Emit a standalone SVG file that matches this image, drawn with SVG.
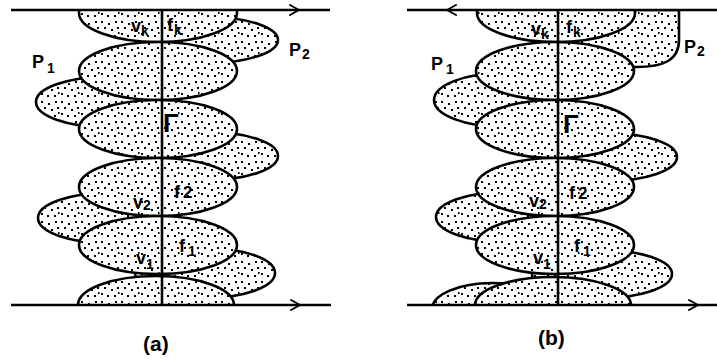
<svg xmlns="http://www.w3.org/2000/svg" width="717" height="360" viewBox="0 0 717 360">
<style>
.e{fill:url(#dots);stroke:#000;stroke-width:2.6}
.ln{fill:none;stroke:#000;stroke-width:2.6}
.ah{fill:none;stroke:#000;stroke-width:2;stroke-linecap:round;stroke-linejoin:round}
.d{fill:#000}
text{font-family:"Liberation Sans",Arial,sans-serif;fill:#000;font-weight:bold}
.t{font-size:18px}
.s{font-size:14px}
.g{font-size:26px}
.cap{font-size:21px}
</style>
<defs>
<pattern id="dots" x="0" y="0" width="20" height="20" patternUnits="userSpaceOnUse">
<rect width="20" height="20" fill="#fff"/>
<rect class="d" x="1" y="1" width="2" height="2"/>
<rect class="d" x="8" y="3" width="2" height="2"/>
<rect class="d" x="15" y="1" width="2" height="2"/>
<rect class="d" x="4" y="7" width="2" height="2"/>
<rect class="d" x="11" y="9" width="2" height="2"/>
<rect class="d" x="17" y="7" width="2" height="2"/>
<rect class="d" x="1" y="13" width="2" height="2"/>
<rect class="d" x="7" y="15" width="2" height="2"/>
<rect class="d" x="14" y="15" width="2" height="2"/>
<rect class="d" x="18" y="12" width="1.5" height="2"/>
</pattern>
<clipPath id="band"><rect x="0" y="10" width="717" height="295"/></clipPath>
</defs>

<g id="panel-a" clip-path="url(#band)">
<g id="a-side">
<ellipse id="a-R1" class="e" cx="208" cy="40" rx="70" ry="23"/>
<ellipse id="a-L1" class="e" cx="106" cy="102" rx="70" ry="25"/>
<ellipse id="a-R2" class="e" cx="208" cy="156" rx="70" ry="24"/>
<ellipse id="a-L2" class="e" cx="108" cy="218" rx="70" ry="25"/>
<ellipse id="a-R3" class="e" cx="205" cy="273" rx="70" ry="25"/>
</g>
<g id="a-center">
<ellipse id="a-Ek" class="e" cx="158" cy="13" rx="79" ry="29"/>
<ellipse id="a-E3" class="e" cx="158" cy="71" rx="79" ry="29"/>
<ellipse id="a-Gamma" class="e" cx="158" cy="129" rx="79" ry="29"/>
<ellipse id="a-E2" class="e" cx="158" cy="187" rx="79" ry="29"/>
<ellipse id="a-E1" class="e" cx="158" cy="245" rx="79" ry="29"/>
<ellipse id="a-E0" class="e" cx="156" cy="305" rx="78" ry="29"/>
</g>
</g>

<g id="panel-b" clip-path="url(#band)">
<g id="b-side">
<path id="b-P2" class="e" d="M585,10 H679 V40 C679,60 664,67 636,67 C606,67 585,55 575,40 Z"/>
<ellipse id="b-L1" class="e" cx="504" cy="100" rx="70" ry="27"/>
<ellipse id="b-R2" class="e" cx="607" cy="157" rx="70" ry="24"/>
<ellipse id="b-L2" class="e" cx="506" cy="217" rx="70" ry="25"/>
<ellipse id="b-R3" class="e" cx="602" cy="274" rx="70" ry="24"/>
<ellipse id="b-L0" class="e" cx="492" cy="309" rx="60" ry="26"/>
</g>
<g id="b-center">
<ellipse id="b-Ek" class="e" cx="556" cy="13" rx="79" ry="29"/>
<ellipse id="b-E3" class="e" cx="555" cy="71" rx="79" ry="29"/>
<ellipse id="b-Gamma" class="e" cx="555" cy="129" rx="79" ry="29"/>
<ellipse id="b-E2" class="e" cx="555" cy="187" rx="79" ry="29"/>
<ellipse id="b-E1" class="e" cx="555" cy="245" rx="79" ry="29"/>
<ellipse id="b-E0" class="e" cx="553" cy="305" rx="78" ry="28"/>
</g>
</g>

<g id="connectors">
<line class="ln" x1="11" y1="10" x2="330" y2="10"/>
<line class="ln" x1="162" y1="10" x2="162" y2="305"/>
<line class="ln" x1="11" y1="305" x2="331" y2="305"/>
<path class="ah" d="M290,5 L299,10 L290,15"/>
<path class="ah" d="M291,300 L300,305 L291,310"/>
<line class="ln" x1="407" y1="10" x2="717" y2="10"/>
<line class="ln" x1="558" y1="10" x2="558" y2="305"/>
<line class="ln" x1="407" y1="305" x2="717" y2="305"/>
<path class="ah" d="M456,5 L447,10 L456,15"/>
<path class="ah" d="M689,300 L698,305 L689,310"/>
</g>

<g id="labels-a">
<text class="t" x="131" y="32">v<tspan class="s" dy="4">k</tspan></text>
<text class="t" x="167" y="31">f<tspan class="s" dy="4" dx="1">k</tspan></text>
<text class="t" x="32" y="68">P<tspan class="s" dy="5" dx="3">1</tspan></text>
<text class="t" x="289" y="56">P<tspan class="s" dy="3" dx="1">2</tspan></text>
<text class="g" x="163" y="132">Γ</text>
<text class="t" x="133" y="208">v<tspan class="s" dy="2">2</tspan></text>
<text class="t" x="174" y="198">f<tspan dx="3" style="font-size:17px">2</tspan></text>
<text class="t" x="179" y="252">f<tspan class="s" dy="4" dx="3">1</tspan></text>
<text class="t" x="136" y="264">v<tspan class="s" dy="5">1</tspan></text>
<text class="cap" x="143" y="351">(a)</text>
</g>

<g id="labels-b">
<text class="t" x="531" y="35">v<tspan class="s" dy="4">k</tspan></text>
<text class="t" x="566" y="33">f<tspan class="s" dy="4" dx="1">k</tspan></text>
<text class="t" x="431" y="70">P<tspan class="s" dy="4" dx="3">1</tspan></text>
<text class="t" x="684" y="53">P<tspan class="s" dy="3" dx="1">2</tspan></text>
<text class="g" x="563" y="133">Γ</text>
<text class="t" x="529" y="207">v<tspan class="s" dy="2">2</tspan></text>
<text class="t" x="569" y="199">f<tspan dx="3" style="font-size:17px">2</tspan></text>
<text class="t" x="574" y="252">f<tspan class="s" dy="4" dx="3">1</tspan></text>
<text class="t" x="533" y="264">v<tspan class="s" dy="5">1</tspan></text>
<text class="cap" x="538" y="345">(b)</text>
</g>
</svg>
